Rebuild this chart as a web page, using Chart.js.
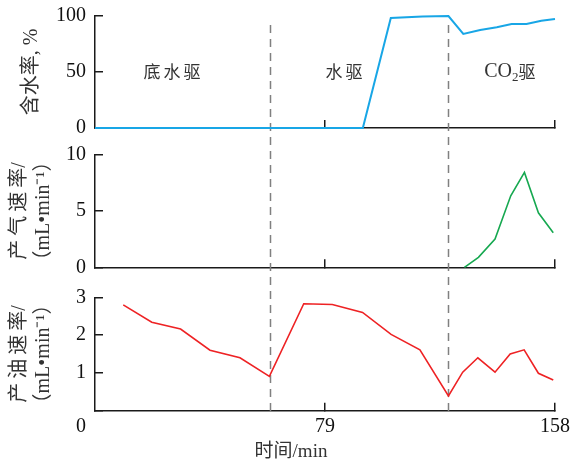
<!DOCTYPE html>
<html>
<head>
<meta charset="utf-8">
<script src="https://cdn.jsdelivr.net/npm/chart.js@4.4.1/dist/chart.umd.min.js"></script>
<style>
  html, body { margin: 0; padding: 0; background: #fff; }
  #wrap { position: relative; width: 580px; height: 461px; }
  .panel { position: absolute; left: 0; width: 580px; }
</style>
</head>
<body>
<div id="wrap">
  <div class="panel" style="top:0;height:140px"><canvas id="c1"></canvas></div>
  <div class="panel" style="top:140px;height:140px"><canvas id="c2"></canvas></div>
  <div class="panel" style="top:280px;height:181px"><canvas id="c3"></canvas></div>
</div>
<script>
// time axis, min
const xMin = 0;
const xMax = 158;
const xTicks = [79, 158];
const phaseBounds = [60, 121.4];
const phaseNames = ['底水驱', '水驱', 'CO2驱'];
const phaseLabelX = [27, 86, 142.5];

// water cut, %
const waterTime = [0, 92, 101.6, 112.5, 121.4, 126.5, 132.3, 138, 143.1, 148.2, 153.3, 158];
const waterCut = [0, 0, 98.2, 99.6, 100, 84, 87.5, 90, 92.8, 92.8, 95.8, 97.3];

// gas rate, mL/min
const gasTime = [126.9, 131.7, 137.4, 142.8, 147.5, 152.3, 157.4];
const gasRate = [0, 0.89, 2.51, 6.35, 8.43, 4.84, 3.07];

// oil rate, mL/min
const oilTime = [9.7, 19.5, 29.4, 39.5, 49.8, 59.9, 71.7, 81.5, 91.9, 101.7, 111.6, 121.4, 126.3, 131.5, 137.4, 142.6, 147.4, 152.3, 157.4];
const oilRate = [2.80, 2.34, 2.16, 1.60, 1.40, 0.91, 2.83, 2.81, 2.60, 2.02, 1.61, 0.39, 1.02, 1.40, 1.02, 1.50, 1.61, 0.99, 0.81];

const SERIF = '"Liberation Serif", "Noto Sans CJK SC", serif';
const CJK = '"Noto Sans CJK SC", "Liberation Serif", sans-serif';
const AXIS = '#1a1a1a';
const TXT = '#333';
const TS = '\u2009'; // thin space between CJK glyphs

Chart.defaults.font.family = SERIF;
Chart.defaults.font.size = 20;
Chart.defaults.color = '#111';

function toPoints(xs, ys) {
  return xs.map((x, i) => ({x: x, y: ys[i]}));
}

// dashed phase boundaries, continuous across the three canvases
const DASH_TOP = 25, DASH_BOTTOM = 412;
function phaseLines(offsetTop) {
  return {
    id: 'phaseLines',
    beforeDatasetsDraw(chart) {
      const ctx = chart.ctx;
      const h = chart.height;
      const y0 = Math.max(0, DASH_TOP - offsetTop);
      const y1 = Math.min(h, DASH_BOTTOM - offsetTop);
      if (y1 <= y0) return;
      ctx.save();
      ctx.strokeStyle = '#808080';
      ctx.lineWidth = 1.5;
      ctx.setLineDash([8, 6]);
      ctx.lineDashOffset = y0 + offsetTop - DASH_TOP;
      for (const b of phaseBounds) {
        const px = Math.round(chart.scales.x.getPixelForValue(b)) + 0.5;
        ctx.beginPath();
        ctx.moveTo(px, y0);
        ctx.lineTo(px, y1);
        ctx.stroke();
      }
      ctx.restore();
    }
  };
}

const phaseText = {
  id: 'phaseText',
  afterDraw(chart) {
    const ctx = chart.ctx;
    const y = chart.scales.y.getPixelForValue(50);
    ctx.save();
    ctx.fillStyle = TXT;
    ctx.textBaseline = 'middle';
    ctx.textAlign = 'center';
    if ('letterSpacing' in ctx) ctx.letterSpacing = '3px';
    ctx.font = '17px ' + CJK;
    ctx.fillText(phaseNames[0], chart.scales.x.getPixelForValue(phaseLabelX[0]), y);
    ctx.fillText(phaseNames[1], chart.scales.x.getPixelForValue(phaseLabelX[1]), y);
    if ('letterSpacing' in ctx) ctx.letterSpacing = '0px';
    // CO2 with subscript
    ctx.textAlign = 'left';
    const big = '20px ' + SERIF, small = '13px ' + SERIF, cjk = '17px ' + CJK;
    ctx.font = big; const wCO = ctx.measureText('CO').width;
    ctx.font = small; const w2 = ctx.measureText('2').width;
    ctx.font = cjk; const wQ = ctx.measureText('驱').width;
    let x = chart.scales.x.getPixelForValue(phaseLabelX[2]) - (wCO + w2 + wQ) / 2;
    ctx.font = big; ctx.fillText('CO', x, y); x += wCO;
    ctx.font = small; ctx.fillText('2', x, y + 6); x += w2;
    ctx.font = cjk; ctx.fillText('驱', x, y);
    ctx.restore();
  }
};

const bottomText = {
  id: 'bottomText',
  afterDraw(chart) {
    const ctx = chart.ctx;
    ctx.save();
    ctx.fillStyle = '#111';
    ctx.textBaseline = 'middle';
    ctx.font = '20px ' + SERIF;
    ctx.textAlign = 'right';
    ctx.fillText('0', chart.scales.x.left - 9, 147);
    ctx.fillStyle = TXT;
    ctx.textAlign = 'center';
    ctx.font = '19px ' + SERIF;
    ctx.fillText('时间/min', 291, 172);
    ctx.restore();
  }
};

function xScale(showLabels, height) {
  return {
    type: 'linear',
    min: xMin,
    max: xMax,
    afterBuildTicks(scale) { scale.ticks = xTicks.map(v => ({value: v})); },
    afterFit(scale) {
      scale.height = height;
      scale.paddingLeft = 0;
      scale.paddingRight = 0;
    },
    grid: { display: true, drawOnChartArea: false, drawTicks: true, tickLength: -8, color: AXIS, lineWidth: 1.5 },
    border: { display: true, color: AXIS, width: 1.5 },
    ticks: { display: showLabels, padding: 12, maxRotation: 0, color: '#111' }
  };
}

function yScale(max, step, title, titlePad, hideZero) {
  return {
    min: 0,
    max: max,
    afterFit(scale) {
      scale.width = 95;
      scale.paddingTop = 0;
      scale.paddingBottom = 0;
    },
    grid: { display: true, drawOnChartArea: false, drawTicks: true, tickLength: -8, color: AXIS, lineWidth: 1.5 },
    border: { display: true, color: AXIS, width: 1.5 },
    ticks: {
      stepSize: step,
      padding: 17,
      color: '#111',
      callback: v => (hideZero && v === 0) ? '' : v
    },
    title: {
      display: true,
      text: title,
      color: TXT,
      font: { family: SERIF, size: 20 },
      padding: { top: titlePad, bottom: 0 }
    }
  };
}

function panel(id, offsetTop, dataset, yOpts, xOpts, pad, extra) {
  return new Chart(document.getElementById(id), {
    type: 'line',
    data: { datasets: [dataset] },
    options: {
      responsive: true,
      maintainAspectRatio: false,
      animation: false,
      layout: { padding: pad },
      plugins: { legend: { display: false }, tooltip: { enabled: false } },
      elements: { point: { radius: 0 }, line: { tension: 0 } },
      scales: { x: xOpts, y: yOpts }
    },
    plugins: [phaseLines(offsetTop)].concat(extra)
  });
}

panel('c1', 0,
  { data: toPoints(waterTime, waterCut), borderColor: '#18a6e6', borderWidth: 2, clip: false },
  yScale(100, 50, '含水率, %', 20, false),
  xScale(false, 12),
  { top: 16, left: 0, right: 25, bottom: 0 },
  [phaseText]);

panel('c2', 140,
  { data: toPoints(gasTime, gasRate), borderColor: '#16a850', borderWidth: 1.6, clip: false },
  yScale(10, 5, ['产' + TS + '气' + TS + '速' + TS + '率/', '（mL•min⁻¹）'], 8, false),
  xScale(false, 12.7),
  { top: 14.7, left: 0, right: 25, bottom: 0 },
  []);

panel('c3', 280,
  { data: toPoints(oilTime, oilRate), borderColor: '#ee2224', borderWidth: 1.6, clip: false },
  yScale(3, 1, ['产' + TS + '油' + TS + '速' + TS + '率/', '（mL•min⁻¹）'], 8, true),
  xScale(true, 50.3),
  { top: 17.3, left: 0, right: 25, bottom: 0 },
  [bottomText]);
</script>
</body>
</html>
